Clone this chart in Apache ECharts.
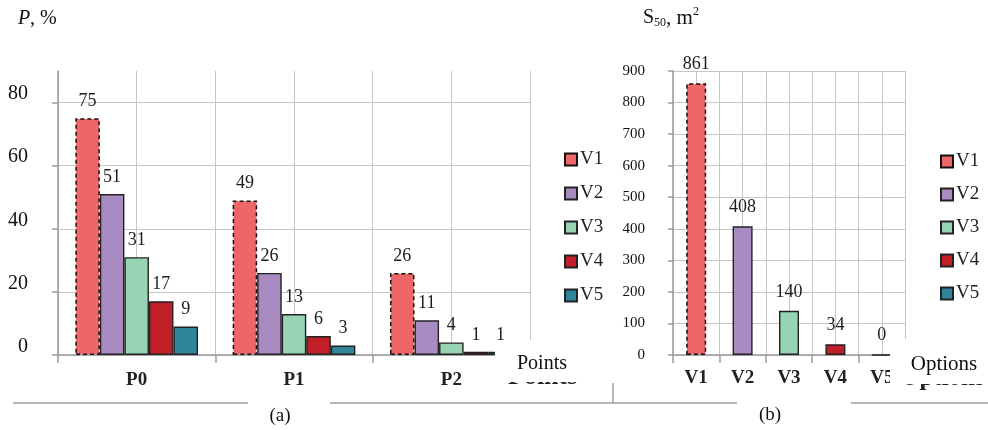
<!DOCTYPE html>
<html><head><meta charset="utf-8">
<script src="https://cdn.jsdelivr.net/npm/echarts@6/dist/echarts.min.js"></script>
<style>html,body{margin:0;padding:0;background:#fff}#c{width:988px;height:430px}</style>
</head><body><div id="c"></div>
<script>
// ---- data ----
const seriesNames = ['V1', 'V2', 'V3', 'V4', 'V5'];
const pointCategories = ['P0', 'P1', 'P2'];
const v1Points = [75, 49, 26];
const v2Points = [51, 26, 11];
const v3Points = [31, 13, 4];
const v4Points = [17, 6, 1];
const v5Points = [9, 3, 1];
const optionCategories = ['V1', 'V2', 'V3', 'V4', 'V5'];
const s50Values = [861, 408, 140, 34, 0];
const pTickLabels = [0, 20, 40, 60, 80];
const sTickLabels = [0, 100, 200, 300, 400, 500, 600, 700, 800, 900];

// ---- styling ----
const FONT = '"Liberation Serif", "Times New Roman", serif';
const colors = ['#EF6668', '#A98BC2', '#97D4B3', '#C11F27', '#2E8499'];
const gridColor = '#c6c6c6';
const axisColor = '#9a9a9a';
const pointSeriesValues = [v1Points, v2Points, v3Points, v4Points, v5Points];

function itemStyle(i) {
  return i === 0
    ? { color: colors[i], borderColor: '#111', borderWidth: 1.5, borderType: [4, 3] }
    : { color: colors[i], borderColor: '#222', borderWidth: 1.4, borderType: 'solid' };
}
const valueLabel = { show: true, position: 'top', distance: 8, fontFamily: FONT, fontSize: 18, color: '#1c1c22' };

const seriesA = seriesNames.map((n, i) => ({
  name: n, type: 'bar', xAxisIndex: 0, yAxisIndex: 0,
  data: pointSeriesValues[i],
  barGap: '0%', barCategoryGap: '22%',
  itemStyle: itemStyle(i), label: valueLabel
}));
const seriesB = seriesNames.map((n, i) => ({
  name: n, type: 'bar', xAxisIndex: 2, yAxisIndex: 1, stack: 'opt',
  data: optionCategories.map((c, j) => (j === i ? s50Values[i] : '-')),
  barWidth: 20,
  itemStyle: itemStyle(i), label: Object.assign({}, valueLabel, { distance: 10 })
}));

function legend(left, top, gap) {
  return {
    data: seriesNames, orient: 'vertical', left: left, top: top, itemGap: gap,
    itemWidth: 12, itemHeight: 12, icon: 'rect', selectedMode: false,
    textStyle: { fontFamily: FONT, fontSize: 19, color: '#222', padding: [0, 0, 0, -2] }
  };
}
function text(x, y, str, size, extra) {
  return Object.assign({ type: 'text', x: x, y: y, z: 101,
    style: Object.assign({ text: str, font: size + 'px ' + FONT, fill: '#111', align: 'left', verticalAlign: 'middle' }, extra || {}) });
}

const option = {
  backgroundColor: '#fff',
  animation: false,
  color: colors,
  grid: [
    { left: 58, top: 71, width: 472, height: 284 },
    { left: 673, top: 71, width: 232, height: 284 }
  ],
  legend: [legend(559, 145, 15), legend(935, 147, 14)],
  xAxis: [
    { type: 'category', gridIndex: 0, data: pointCategories,
      axisLine: { lineStyle: { color: axisColor, width: 1.5 } },
      axisTick: { show: true, length: 8, lineStyle: { color: axisColor, width: 1.5 } },
      axisLabel: { fontFamily: FONT, fontSize: 19, fontWeight: 'bold', color: '#222', margin: 16 },
      splitLine: { show: false } },
    { type: 'value', gridIndex: 0, min: 0, max: 3, interval: 0.5,
      axisLine: { show: false }, axisTick: { show: false }, axisLabel: { show: false },
      splitLine: { show: true, lineStyle: { color: gridColor, width: 1 } } },
    { type: 'category', gridIndex: 1, data: optionCategories,
      axisLine: { lineStyle: { color: axisColor, width: 1.5 } },
      axisTick: { show: true, length: 8, lineStyle: { color: axisColor, width: 1.5 } },
      axisLabel: { fontFamily: FONT, fontSize: 19, fontWeight: 'bold', color: '#222', margin: 14 },
      splitLine: { show: false } },
    { type: 'value', gridIndex: 1, min: 0, max: 5, interval: 0.5,
      axisLine: { show: false }, axisTick: { show: false }, axisLabel: { show: false },
      splitLine: { show: true, lineStyle: { color: gridColor, width: 1 } } }
  ],
  yAxis: [
    { type: 'value', gridIndex: 0, min: 0, max: 90, interval: 10,
      axisLine: { show: true, lineStyle: { color: axisColor, width: 1.5 } },
      axisTick: { show: true, length: 6, customValues: pTickLabels, lineStyle: { color: axisColor, width: 1.5 } },
      axisLabel: { customValues: pTickLabels, margin: 30, fontFamily: FONT, fontSize: 20, color: '#111',
                   verticalAlign: 'bottom', lineHeight: 17 },
      splitLine: { show: true, lineStyle: { color: gridColor, width: 1 } } },
    { type: 'value', gridIndex: 1, min: 0, max: 900, interval: 50,
      axisLine: { show: true, lineStyle: { color: axisColor, width: 1.5 } },
      axisTick: { show: true, length: 5, customValues: sTickLabels, lineStyle: { color: axisColor, width: 1.5 } },
      axisLabel: { customValues: sTickLabels, margin: 28, fontFamily: FONT, fontSize: 15, color: '#111' },
      splitLine: { show: true, lineStyle: { color: gridColor, width: 1 } } }
  ],
  series: seriesA.concat(seriesB),
  graphic: { elements: [
    // axis titles
    text(18, 19, 'P', 20, { font: 'italic 20px ' + FONT }),
    text(30, 19, ', %', 20),
    text(643, 18, 'S', 20),
    text(654, 23, '50', 12),
    text(666, 18, ', m', 21),
    text(693, 12, '2', 12),
    // hidden-behind (garbled) axis names
    Object.assign(text(508, 390, 'Points', 26, { font: 'bold 26px ' + FONT, verticalAlign: 'bottom', fill: '#222' }), { z: 99 }),
    Object.assign(text(900, 391, 'Options', 25, { font: 'bold 25px ' + FONT, verticalAlign: 'bottom', fill: '#222' }), { z: 99 }),
    // white boxes
    { type: 'rect', z: 100, shape: { x: 495, y: 340, width: 118, height: 42 }, style: { fill: '#fff' } },
    { type: 'rect', z: 100, shape: { x: 890, y: 339, width: 98, height: 45 }, style: { fill: '#fff' } },
    text(542, 364, 'Points', 20, { align: 'center' }),
    text(944, 364, 'Options', 21, { align: 'center' }),
    // bottom rules
    { type: 'line', z: 100, shape: { x1: 13, y1: 403, x2: 248, y2: 403 }, style: { stroke: '#9c9c9c', lineWidth: 1.5 } },
    { type: 'line', z: 100, shape: { x1: 330, y1: 403, x2: 737, y2: 403 }, style: { stroke: '#9c9c9c', lineWidth: 1.5 } },
    { type: 'line', z: 100, shape: { x1: 851, y1: 403, x2: 988, y2: 403 }, style: { stroke: '#9c9c9c', lineWidth: 1.5 } },
    { type: 'line', z: 100, shape: { x1: 613, y1: 383, x2: 613, y2: 403 }, style: { stroke: '#9c9c9c', lineWidth: 1.5 } },
    text(280, 416, '(a)', 19, { align: 'center' }),
    text(770, 415, '(b)', 19, { align: 'center' })
  ] }
};

const chart = echarts.init(document.getElementById('c'), null, { renderer: 'canvas' });
chart.setOption(option);
</script>
</body></html>
